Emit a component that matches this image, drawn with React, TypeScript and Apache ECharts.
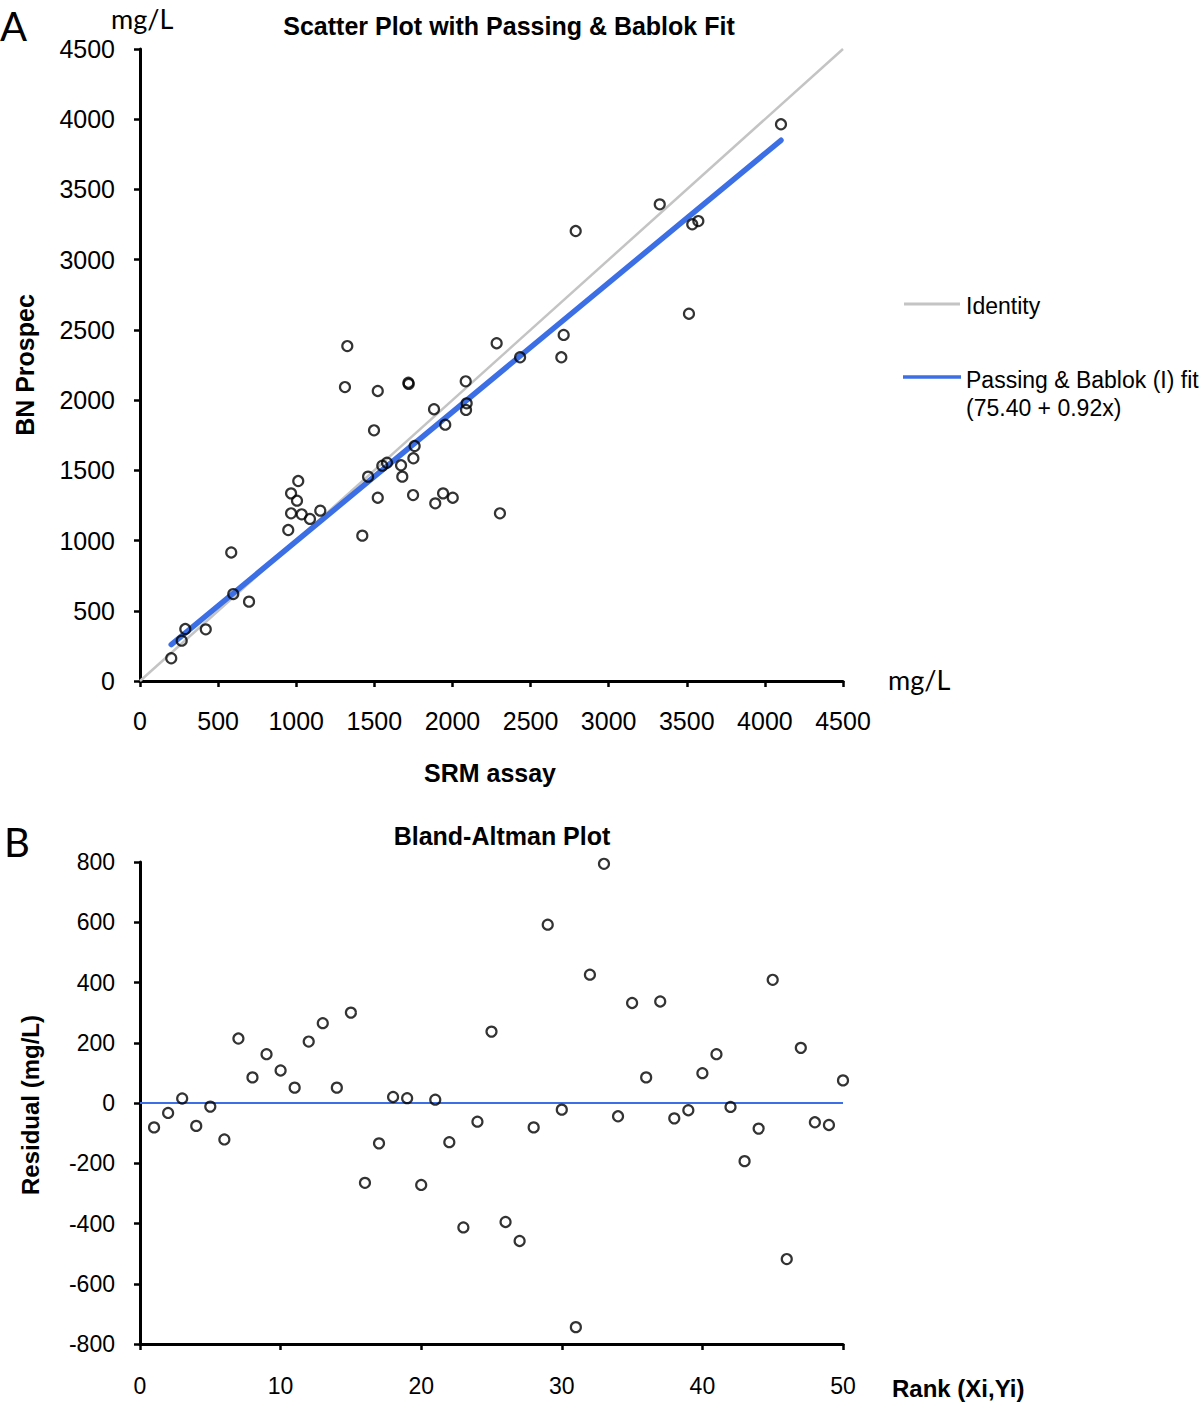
import React, { useEffect, useRef } from "react";
import * as echarts from "echarts";

// Panel A: SRM assay (x) vs BN Prospec (y), mg/L
const srmAssay = [
  200, 267, 290, 421, 584, 597, 698, 949, 967, 967,
  1005, 1013, 1035, 1088, 1154, 1327, 1312, 1423, 1498, 1522,
  1522, 1460, 1551, 1581, 1671, 1679, 1718, 1720, 1750, 1748,
  1758, 1882, 1890, 1940, 1954, 2002, 2085, 2091, 2087, 2283,
  2304, 2433, 2697, 2712, 2789, 3327, 3514, 3535, 3574, 4103,
];
const bnProspec = [
  162, 287, 370, 368, 915, 619, 565, 1075, 1194, 1336,
  1284, 1424, 1187, 1154, 1213, 2385, 2093, 1035, 1785, 2065,
  1305, 1455, 1533, 1554, 1536, 1455, 2124, 2115, 1586, 1324,
  1673, 1935, 1265, 1336, 1825, 1305, 2134, 1977, 1930, 2405,
  1194, 2305, 2305, 2464, 3204, 3394, 2615, 3252, 3275, 3964,
];
const identityEnds = [0, 4500];
const fitIntercept = 75.4;
const fitSlope = 0.92;
const fitXRange = [200, 4103];

// Panel B: Bland-Altman residuals by rank
const ranks = [
  1, 2, 3, 4, 5, 6, 7, 8, 9, 10,
  11, 12, 13, 14, 15, 16, 17, 18, 19, 20,
  21, 22, 23, 24, 25, 26, 27, 28, 29, 30,
  31, 32, 33, 34, 35, 36, 37, 38, 39, 40,
  41, 42, 43, 44, 45, 46, 47, 48, 49, 50,
];
const residuals = [
  -81, -33, 15, -76, -12, -121, 214, 85, 162, 108,
  51, 204, 265, 51, 300, -265, -134, 20, 16, -272,
  11, -130, -413, -62, 237, -395, -458, -81, 592, -22,
  -744, 426, 794, -44, 332, 85, 337, -51, -24, 99,
  162, -13, -193, -85, 409, -518, 183, -64, -73, 75,
];
const rankRange = [0, 50];

const TICK_FONT = "'Liberation Sans', Arial, Helvetica, sans-serif";
const LABEL_FONT = "'Liberation Sans', Arial, Helvetica, sans-serif";
const CAL_FONT = "Lato, 'Open Sans', sans-serif";
const BLUE = "#3c6fe6";
const GREY = "#c4c4c4";

export default function App() {
  const ref = useRef<HTMLDivElement>(null);

  useEffect(() => {
    if (!ref.current) return;
    const chart = echarts.init(ref.current, undefined, { renderer: "svg" });

    const axisLine = { show: true, onZero: false, lineStyle: { color: "#000", width: 3 } };
    const axisTick = { show: true, length: 6, lineStyle: { color: "#000", width: 2.5 } };
    const plain = (v: number) => String(v);

    const scatterStyle = {
      color: "rgba(255,255,255,0)",
      borderColor: "#000",
      borderWidth: 2.2,
    };

    const text = (x: number, y: number, t: string, opts: any = {}) => ({
      type: "text",
      x,
      y,
      rotation: opts.rotation || 0,
      style: {
        text: t,
        fill: "#000",
        font: opts.font,
        align: opts.align || "left",
        verticalAlign: opts.verticalAlign || "middle",
      },
      z: 100,
    });

    chart.setOption({
      animation: false,
      backgroundColor: "#fff",
      grid: [
        { left: 140, top: 49, width: 703, height: 632, outerBoundsMode: "none", containLabel: false },
        { left: 140, top: 862, width: 703, height: 482, outerBoundsMode: "none", containLabel: false },
      ],
      xAxis: [
        {
          type: "value",
          gridIndex: 0,
          min: 0,
          max: 4500,
          interval: 500,
          axisLine,
          axisTick,
          splitLine: { show: false },
          axisLabel: { color: "#000", fontSize: 25, fontFamily: TICK_FONT, margin: 27, formatter: plain },
        },
        {
          type: "value",
          gridIndex: 1,
          min: 0,
          max: 50,
          interval: 10,
          position: "bottom",
          axisLine,
          axisTick,
          splitLine: { show: false },
          axisLabel: { color: "#000", fontSize: 23, fontFamily: TICK_FONT, margin: 30, formatter: plain },
        },
      ],
      yAxis: [
        {
          type: "value",
          gridIndex: 0,
          min: 0,
          max: 4500,
          interval: 500,
          axisLine,
          axisTick,
          splitLine: { show: false },
          axisLabel: { color: "#000", fontSize: 25, fontFamily: TICK_FONT, margin: 25, formatter: plain },
        },
        {
          type: "value",
          gridIndex: 1,
          min: -800,
          max: 800,
          interval: 200,
          axisLine,
          axisTick,
          splitLine: { show: false },
          axisLabel: { color: "#000", fontSize: 23, fontFamily: TICK_FONT, margin: 25, formatter: plain },
        },
      ],
      series: [
        {
          name: "Identity",
          type: "line",
          xAxisIndex: 0,
          yAxisIndex: 0,
          data: identityEnds.map((v) => [v, v]),
          symbol: "none",
          lineStyle: { color: GREY, width: 2.5 },
          z: 2,
        },
        {
          name: "Passing & Bablok (I) fit",
          type: "line",
          xAxisIndex: 0,
          yAxisIndex: 0,
          data: fitXRange.map((x) => [x, fitIntercept + fitSlope * x]),
          symbol: "none",
          lineStyle: { color: BLUE, width: 5.5, cap: "round" },
          z: 3,
        },
        {
          name: "Samples",
          type: "scatter",
          xAxisIndex: 0,
          yAxisIndex: 0,
          data: srmAssay.map((x, i) => [x, bnProspec[i]]),
          symbol: "circle",
          symbolSize: 10,
          itemStyle: scatterStyle,
          z: 5,
        },
        {
          name: "Zero",
          type: "line",
          xAxisIndex: 1,
          yAxisIndex: 1,
          data: rankRange.map((r) => [r, 0]),
          symbol: "none",
          lineStyle: { color: BLUE, width: 2 },
          z: 2,
        },
        {
          name: "Residuals",
          type: "scatter",
          xAxisIndex: 1,
          yAxisIndex: 1,
          data: ranks.map((r, i) => [r, residuals[i]]),
          symbol: "circle",
          symbolSize: 10,
          itemStyle: scatterStyle,
          z: 5,
        },
      ],
      graphic: [
        text(0, 26, "A", { font: `40px ${CAL_FONT}` }),
        text(4, 842, "B", { font: `40px ${CAL_FONT}` }),
        text(111, 18, "mg/L", { font: `27px ${CAL_FONT}` }),
        text(888, 679, "mg/L", { font: `27px ${CAL_FONT}` }),
        text(509, 26, "Scatter Plot with Passing & Bablok Fit", {
          font: `bold 25px ${LABEL_FONT}`,
          align: "center",
        }),
        text(490, 773, "SRM assay", { font: `bold 25px ${LABEL_FONT}`, align: "center" }),
        text(25, 365, "BN Prospec", {
          font: `bold 25px ${LABEL_FONT}`,
          align: "center",
          rotation: Math.PI / 2,
        }),
        text(502, 836, "Bland-Altman Plot", { font: `bold 25px ${LABEL_FONT}`, align: "center" }),
        text(30, 1105, "Residual (mg/L)", {
          font: `bold 24px ${LABEL_FONT}`,
          align: "center",
          rotation: Math.PI / 2,
        }),
        text(892, 1388, "Rank (Xi,Yi)", { font: `bold 24px ${LABEL_FONT}` }),
        {
          type: "line",
          shape: { x1: 904, y1: 304, x2: 960, y2: 304 },
          style: { stroke: GREY, lineWidth: 3 },
        },
        text(966, 306, "Identity", { font: `23px ${LABEL_FONT}` }),
        {
          type: "line",
          shape: { x1: 903, y1: 377, x2: 961, y2: 377 },
          style: { stroke: BLUE, lineWidth: 3.5 },
        },
        text(966, 380, "Passing & Bablok (I) fit", { font: `23px ${LABEL_FONT}` }),
        text(966, 408, "(75.40 + 0.92x)", { font: `23px ${LABEL_FONT}` }),
      ],
    });

    return () => chart.dispose();
  }, []);

  return (
    <div
      ref={ref}
      style={{ position: "absolute", left: 0, top: 0, width: 1200, height: 1402, background: "#fff" }}
    />
  );
}
